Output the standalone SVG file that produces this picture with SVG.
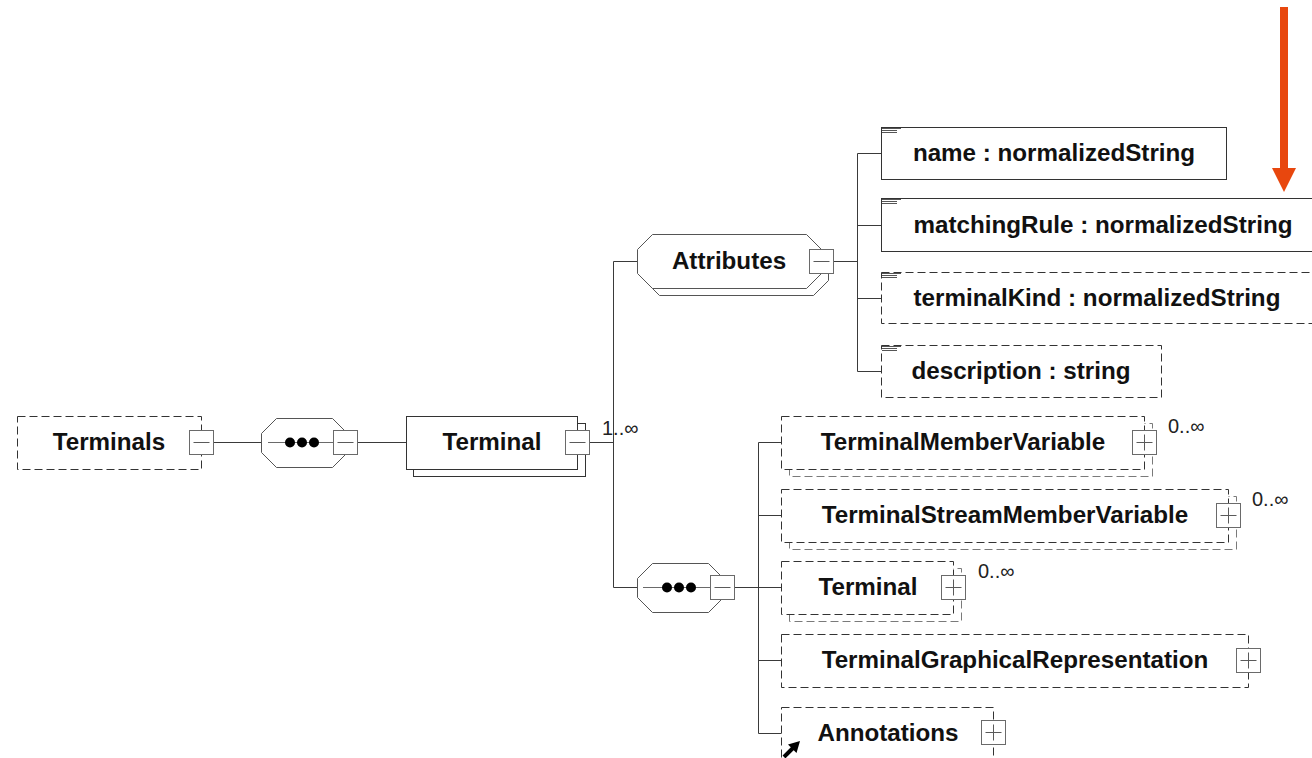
<svg xmlns="http://www.w3.org/2000/svg" width="1312" height="758" viewBox="0 0 1312 758">
  <style>
    .bg { fill: #ffffff; }
    .conn { stroke: #3a3a3a; stroke-width: 1; fill: none; }
    .solid { fill: #ffffff; stroke: #333333; stroke-width: 1; }
    .dash { fill: #ffffff; stroke: #333333; stroke-width: 1; stroke-dasharray: 8 4; }
    .dashback { fill: #ffffff; stroke: #7a7a7a; stroke-width: 1; stroke-dasharray: 8 4; }
    .oct { fill: #ffffff; stroke: #555555; stroke-width: 1; }
    .btn { fill: #ffffff; stroke: #6a6a6a; stroke-width: 1; }
    .sign { stroke: #5a5a5a; stroke-width: 1; fill: none; }
    .seqline { stroke: #6a6a6a; stroke-width: 1; fill: none; }
    .dot { fill: #000000; }
    .icon { stroke: #555555; stroke-width: 1; }
    .label { font-family: "Liberation Sans", Arial, sans-serif; font-weight: bold; font-size: 24.2px; fill: #111111; text-anchor: middle; }
    .mult { font-family: "Liberation Sans", Arial, sans-serif; font-size: 20px; fill: #222222; }
  </style>
  <defs>
    <!-- expand (+) button -->
    <g id="plus">
      <rect class="btn" x="0" y="0" width="24" height="24"/>
      <path class="sign" d="M4 12 H20 M12 4 V20"/>
    </g>
    <!-- collapse (-) button -->
    <g id="minus">
      <rect class="btn" x="0" y="0" width="24" height="24"/>
      <path class="sign" d="M4 12 H20"/>
    </g>
    <!-- attribute marker in the top-left corner -->
    <g id="attrIcon">
      <path class="icon" d="M1 1.5 H20 M1 3.5 H16 M1 5.5 H16"/>
    </g>
  </defs>

  <rect class="bg" x="0" y="0" width="1312" height="758"/>

  <!-- connectors -->
  <g id="connectors">
    <path class="conn" d="M213 442.5 H261.5"/>
    <path class="conn" d="M357.5 442.5 H406.5"/>
    <path class="conn" d="M589.5 442.5 H613.5"/>
    <path class="conn" d="M613.5 261.5 V587.5"/>
    <path class="conn" d="M613.5 261.5 H637.5"/>
    <path class="conn" d="M613.5 587.5 H637.5"/>
    <path class="conn" d="M832.5 261.5 H857.5"/>
    <path class="conn" d="M857.5 153.5 V371.5"/>
    <path class="conn" d="M857.5 153.5 H881.5"/>
    <path class="conn" d="M857.5 225.5 H881.5"/>
    <path class="conn" d="M857.5 298.5 H881.5"/>
    <path class="conn" d="M857.5 371.5 H881.5"/>
    <path class="conn" d="M734.5 587.5 H781.5"/>
    <path class="conn" d="M758.5 442.5 V733.5"/>
    <path class="conn" d="M758.5 442.5 H781.5"/>
    <path class="conn" d="M758.5 515.5 H781.5"/>
    <path class="conn" d="M758.5 660.5 H781.5"/>
    <path class="conn" d="M758.5 733.5 H781.5"/>
  </g>

  <!-- Terminals element -->
  <g id="node-terminals">
    <rect class="dash" x="17.5" y="416.5" width="184" height="53"/>
    <text class="label" x="109" y="450">Terminals</text>
    <use href="#minus" x="189.5" y="430.5"/>
  </g>

  <!-- sequence under Terminals -->
  <g id="node-seq1">
    <polygon class="oct" points="276.5,418.5 332.5,418.5 347.5,433.5 347.5,452.5 332.5,467.5 276.5,467.5 261.5,452.5 261.5,433.5"/>
    <path class="seqline" d="M268 442.5 H333.5"/>
    <circle class="dot" cx="290" cy="442.5" r="5"/>
    <circle class="dot" cx="302" cy="442.5" r="5"/>
    <circle class="dot" cx="314" cy="442.5" r="5"/>
    <use href="#minus" x="333.5" y="430.5"/>
  </g>

  <!-- Terminal element (1..unbounded) -->
  <g id="node-terminal">
    <rect class="solid" x="413.5" y="423.5" width="172" height="53"/>
    <rect class="solid" x="406.5" y="416.5" width="171" height="53"/>
    <text class="label" x="492" y="450">Terminal</text>
    <use href="#minus" x="565.5" y="430.5"/>
    <text class="mult" x="602" y="435">1..∞</text>
  </g>

  <!-- attribute group -->
  <g id="node-attributes">
    <polygon class="oct" points="659.5,241.5 813.5,241.5 828.5,256.5 828.5,280.5 813.5,295.5 659.5,295.5 644.5,280.5 644.5,256.5"/>
    <polygon class="oct" points="652.5,234.5 806.5,234.5 821.5,249.5 821.5,273.5 806.5,288.5 652.5,288.5 637.5,273.5 637.5,249.5"/>
    <text class="label" x="729" y="269">Attributes</text>
    <use href="#minus" x="809.5" y="249.5"/>
  </g>

  <g id="node-attr-name">
    <rect class="solid" x="881.5" y="127.5" width="345" height="52"/>
    <use href="#attrIcon" x="881" y="127"/>
    <text class="label" x="1054" y="161">name : normalizedString</text>
  </g>

  <g id="node-attr-matchingRule">
    <rect class="solid" x="881.5" y="198.5" width="443" height="53"/>
    <use href="#attrIcon" x="881" y="198"/>
    <text class="label" x="1103" y="233">matchingRule : normalizedString</text>
  </g>

  <g id="node-attr-terminalKind">
    <rect class="dash" x="881.5" y="272.5" width="432" height="51"/>
    <use href="#attrIcon" x="881" y="272"/>
    <text class="label" x="1097" y="306">terminalKind : normalizedString</text>
  </g>

  <g id="node-attr-description">
    <rect class="dash" x="881.5" y="345.5" width="280" height="52"/>
    <use href="#attrIcon" x="881" y="345"/>
    <text class="label" x="1021" y="379">description : string</text>
  </g>

  <!-- sequence of Terminal content -->
  <g id="node-seq2">
    <polygon class="oct" points="652.5,563.5 708.5,563.5 723.5,578.5 723.5,597.5 708.5,612.5 652.5,612.5 637.5,597.5 637.5,578.5"/>
    <path class="seqline" d="M643 587.5 H710.5"/>
    <circle class="dot" cx="667" cy="587.5" r="5"/>
    <circle class="dot" cx="679" cy="587.5" r="5"/>
    <circle class="dot" cx="691" cy="587.5" r="5"/>
    <use href="#minus" x="710.5" y="575.5"/>
  </g>

  <g id="node-terminalMemberVariable">
    <rect class="dashback" x="789.5" y="423.5" width="363" height="53"/>
    <rect class="dash" x="781.5" y="416.5" width="363" height="53"/>
    <text class="label" x="963" y="450">TerminalMemberVariable</text>
    <use href="#plus" x="1132.5" y="430.5"/>
    <text class="mult" x="1168" y="433">0..∞</text>
  </g>

  <g id="node-terminalStreamMemberVariable">
    <rect class="dashback" x="789.5" y="496.5" width="447" height="53"/>
    <rect class="dash" x="781.5" y="489.5" width="447" height="53"/>
    <text class="label" x="1005" y="523">TerminalStreamMemberVariable</text>
    <use href="#plus" x="1216.5" y="503.5"/>
    <text class="mult" x="1252" y="506">0..∞</text>
  </g>

  <g id="node-terminal-child">
    <rect class="dashback" x="789.5" y="568.5" width="172" height="53"/>
    <rect class="dash" x="781.5" y="561.5" width="172" height="53"/>
    <text class="label" x="868" y="595">Terminal</text>
    <use href="#plus" x="941.5" y="575.5"/>
    <text class="mult" x="978" y="578">0..∞</text>
  </g>

  <g id="node-terminalGraphicalRepresentation">
    <rect class="dash" x="781.5" y="634.5" width="467" height="53"/>
    <text class="label" x="1015" y="668">TerminalGraphicalRepresentation</text>
    <use href="#plus" x="1236.5" y="648.5"/>
  </g>

  <g id="node-annotations">
    <rect class="dash" x="781.5" y="707.5" width="212" height="53"/>
    <text class="label" x="888" y="741">Annotations</text>
    <use href="#plus" x="981.5" y="720.5"/>
    <!-- reference link arrow -->
    <path d="M784 757 L793 748" stroke="#000000" stroke-width="4" fill="none"/>
    <polygon points="800,741 788,744.5 796.5,753" fill="#000000"/>
  </g>

  <!-- highlight arrow -->
  <g id="highlight-arrow">
    <rect x="1280" y="7" width="8" height="162" fill="#E8470E"/>
    <polygon points="1272,168 1296,168 1284,192" fill="#E8470E"/>
  </g>
</svg>
